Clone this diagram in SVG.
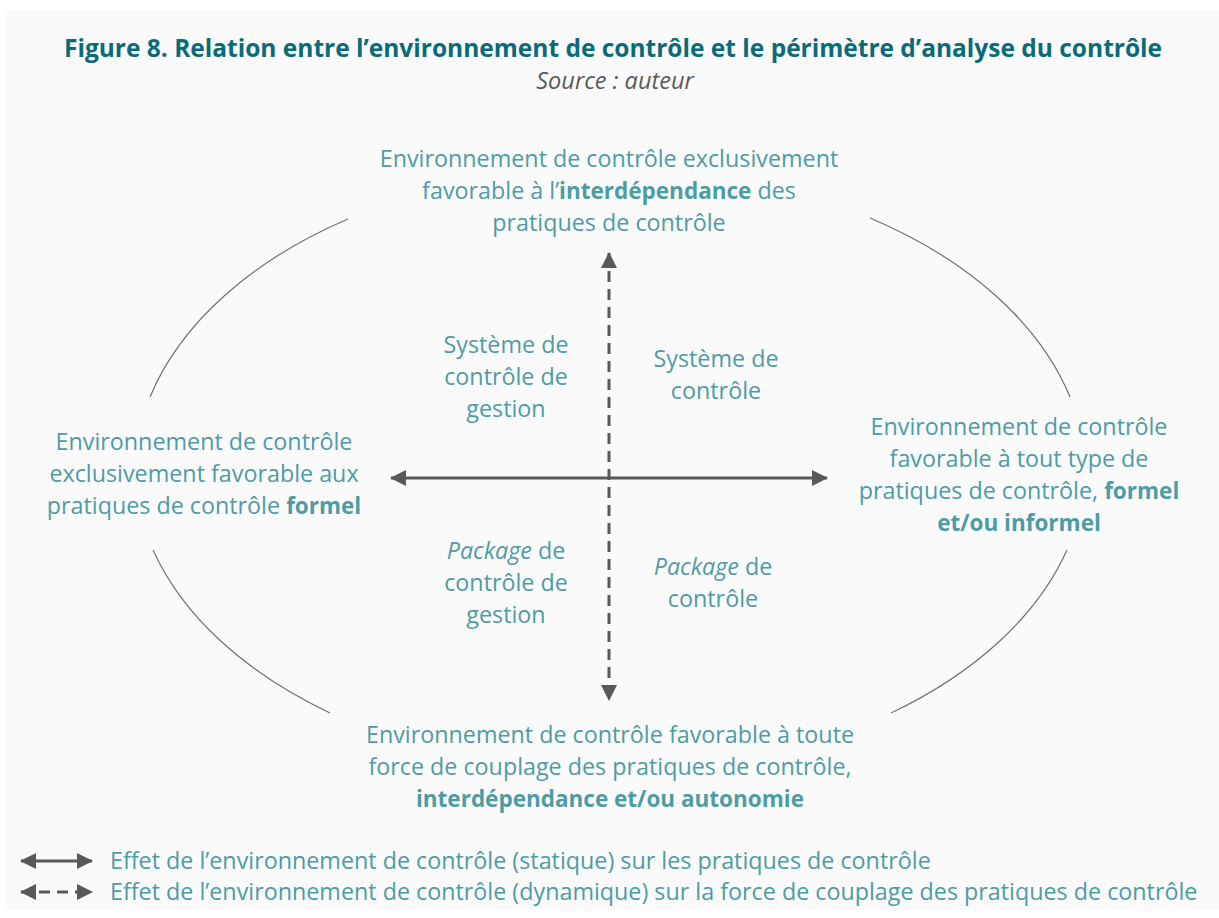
<svg xmlns="http://www.w3.org/2000/svg" width="1219" height="918" viewBox="0 0 1219 918">
<style>
.t{font-family:"Open Sans","Liberation Sans",sans-serif;font-size:23.3px;fill:#4d9ca4;text-anchor:middle}
.b{font-weight:bold;font-size:22.5px}
.i{font-style:italic}
.title{font-family:"Open Sans","Liberation Sans",sans-serif;font-size:24.5px;font-weight:bold;fill:#0a6b78;text-anchor:middle}
.src{font-family:"Open Sans","Liberation Sans",sans-serif;font-size:23.5px;font-style:italic;fill:#595959;text-anchor:middle}
.leg{font-family:"Open Sans","Liberation Sans",sans-serif;font-size:23.3px;fill:#4d9ca4}
.arc{fill:none;stroke:#707070;stroke-width:1.2}
.ax{fill:none;stroke:#595959;stroke-width:3}
.dash{stroke-dasharray:11 7}
</style>
<defs>
<marker id="ah" viewBox="0 0 16 16" refX="15" refY="8" markerWidth="16" markerHeight="16" markerUnits="userSpaceOnUse" orient="auto-start-reverse">
<path d="M0,0 L16,8 L0,16 Z" fill="#595959"/>
</marker>
</defs>
<rect x="5" y="10" width="1214" height="900" fill="#fafafa"/>
<g id="title">
<text class="title" x="613" y="57">Figure 8. Relation entre l’environnement de contrôle et le périmètre d’analyse du contrôle</text>
<text class="src" x="615" y="89">Source : auteur</text>
</g>
<g id="ellipse">
<path class="arc" d="M150,397 A476,309 0 0 1 348,219"/>
<path class="arc" d="M870,218 A476,309 0 0 1 1070,397"/>
<path class="arc" d="M1067,550 A476,309 0 0 1 891,713"/>
<path class="arc" d="M330,713 A476,309 0 0 1 153,550"/>
</g>
<g id="connectors">
<line class="ax" x1="391" y1="478" x2="827" y2="478" marker-start="url(#ah)" marker-end="url(#ah)"/>
<line class="ax dash" x1="609" y1="253" x2="609" y2="700" marker-start="url(#ah)" marker-end="url(#ah)"/>
</g>
<g id="node-top">
<text class="t" x="609" y="167">Environnement de contrôle exclusivement</text>
<text class="t" x="609" y="199">favorable à l’<tspan class="b">interdépendance</tspan> des</text>
<text class="t" x="609" y="231">pratiques de contrôle</text>
</g>
<g id="node-left">
<text class="t" x="204" y="450">Environnement de contrôle</text>
<text class="t" x="204" y="482">exclusivement favorable aux</text>
<text class="t" x="204" y="514">pratiques de contrôle <tspan class="b">formel</tspan></text>
</g>
<g id="node-right">
<text class="t" x="1019" y="435">Environnement de contrôle</text>
<text class="t" x="1019" y="467">favorable à tout type de</text>
<text class="t" x="1019" y="499">pratiques de contrôle, <tspan class="b">formel</tspan></text>
<text class="t b" x="1019" y="531">et/ou informel</text>
</g>
<g id="node-bottom">
<text class="t" x="610" y="743">Environnement de contrôle favorable à toute</text>
<text class="t" x="610" y="775">force de couplage des pratiques de contrôle,</text>
<text class="t b" x="610" y="807">interdépendance et/ou autonomie</text>
</g>
<g id="q-tl">
<text class="t" x="506" y="353">Système de</text>
<text class="t" x="506" y="385">contrôle de</text>
<text class="t" x="506" y="417">gestion</text>
</g>
<g id="q-tr">
<text class="t" x="716" y="367">Système de</text>
<text class="t" x="716" y="399">contrôle</text>
</g>
<g id="q-bl">
<text class="t" x="506" y="559"><tspan class="i">Package</tspan> de</text>
<text class="t" x="506" y="591">contrôle de</text>
<text class="t" x="506" y="623">gestion</text>
</g>
<g id="q-br">
<text class="t" x="713" y="575"><tspan class="i">Package</tspan> de</text>
<text class="t" x="713" y="607">contrôle</text>
</g>
<g id="legend">
<line class="ax" x1="21" y1="861" x2="92" y2="861" marker-start="url(#ah)" marker-end="url(#ah)"/>
<line class="ax dash" x1="21" y1="892" x2="92" y2="892" stroke-dasharray="10 8" marker-start="url(#ah)" marker-end="url(#ah)"/>
<text class="leg" x="110" y="869">Effet de l’environnement de contrôle (statique) sur les pratiques de contrôle</text>
<text class="leg" x="110" y="900">Effet de l’environnement de contrôle (dynamique) sur la force de couplage des pratiques de contrôle</text>
</g>
</svg>
